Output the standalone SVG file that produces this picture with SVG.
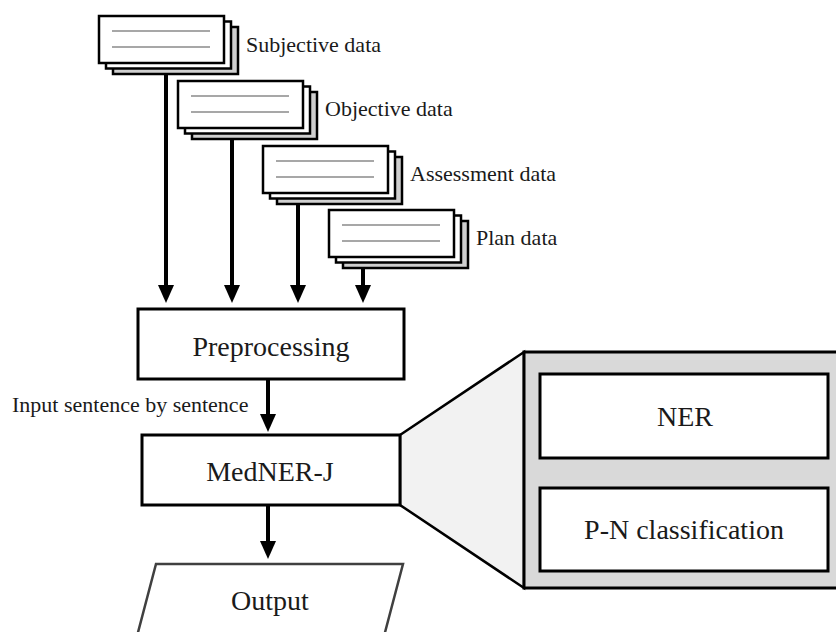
<svg xmlns="http://www.w3.org/2000/svg" xmlns:xlink="http://www.w3.org/1999/xlink" width="836" height="632" viewBox="0 0 836 632">
<style>
  text { font-family: "Liberation Serif", "Times New Roman", serif; fill: #1a1a1a; }
  .lbl { font-size: 22px; }
  .big { font-size: 28px; text-anchor: middle; }
  .box { fill: #ffffff; stroke: #000; stroke-width: 3; }
  .sheet { fill: #ffffff; stroke: #000; stroke-width: 2.5; }
  .shadow { fill: #cfcfcf; stroke: #000; stroke-width: 2.5; }
  .rule { stroke: #8a8a8a; stroke-width: 1.5; }
  .conn { stroke: #000; stroke-width: 4; fill: none; }
</style>
<defs>
  <marker id="ah" markerUnits="userSpaceOnUse" markerWidth="18" markerHeight="16" viewBox="0 0 18 16" refX="6" refY="8" orient="auto">
    <path d="M0,0 L18,8 L0,16 z" fill="#000"/>
  </marker>
  <g id="doc">
    <rect class="shadow" x="14" y="11" width="125" height="47"/>
    <rect class="sheet" x="7" y="5.5" width="125" height="47"/>
    <rect class="sheet" x="0" y="0" width="125" height="47"/>
    <line class="rule" x1="13" y1="15" x2="111" y2="15"/>
    <line class="rule" x1="13" y1="31" x2="111" y2="31"/>
  </g>
</defs>
<rect x="0" y="0" width="836" height="632" fill="#ffffff"/>

<g id="subjective">
  <use xlink:href="#doc" x="99" y="16"/>
  <text class="lbl" x="246" y="52">Subjective data</text>
</g>
<g id="objective">
  <use xlink:href="#doc" x="178" y="81"/>
  <text class="lbl" x="325" y="116">Objective data</text>
</g>
<g id="assessment">
  <use xlink:href="#doc" x="263" y="146"/>
  <text class="lbl" x="410" y="181">Assessment data</text>
</g>
<g id="plan">
  <use xlink:href="#doc" x="329" y="210"/>
  <text class="lbl" x="476" y="245">Plan data</text>
</g>

<g id="zoom-panel">
  <polygon points="400,435 524,352 524,588 400,505" fill="#f2f2f2" stroke="#000" stroke-width="2.5"/>
  <rect x="524" y="352" width="320" height="236" fill="#d9d9d9" stroke="#000" stroke-width="3"/>
</g>
<g id="ner">
  <rect class="box" x="540" y="374" width="288" height="84"/>
  <text class="big" x="685" y="426">NER</text>
</g>
<g id="pn">
  <rect class="box" x="540" y="488" width="288" height="83"/>
  <text class="big" x="684" y="539">P-N classification</text>
</g>

<g id="preprocessing">
  <rect class="box" x="138" y="309" width="266" height="70"/>
  <text class="big" x="271" y="356">Preprocessing</text>
</g>
<g id="medner">
  <rect class="box" x="142" y="435" width="258" height="70"/>
  <text class="big" x="270" y="481">MedNER-J</text>
</g>
<g id="output">
  <polygon points="156,564 403,564 383,640 136,640" fill="#ffffff" stroke="#404040" stroke-width="2.5"/>
  <text class="big" x="270" y="610">Output</text>
</g>

<g id="connectors">
  <line class="conn" x1="166" y1="74" x2="166" y2="291" marker-end="url(#ah)"/>
  <line class="conn" x1="232" y1="139" x2="232" y2="291" marker-end="url(#ah)"/>
  <line class="conn" x1="298" y1="203" x2="298" y2="291" marker-end="url(#ah)"/>
  <line class="conn" x1="363" y1="268" x2="363" y2="291" marker-end="url(#ah)"/>
  <line class="conn" x1="268" y1="379" x2="268" y2="420" marker-end="url(#ah)"/>
  <line class="conn" x1="268" y1="505" x2="268" y2="547" marker-end="url(#ah)"/>
  <text class="lbl" x="12" y="412">Input sentence by sentence</text>
</g>
</svg>
